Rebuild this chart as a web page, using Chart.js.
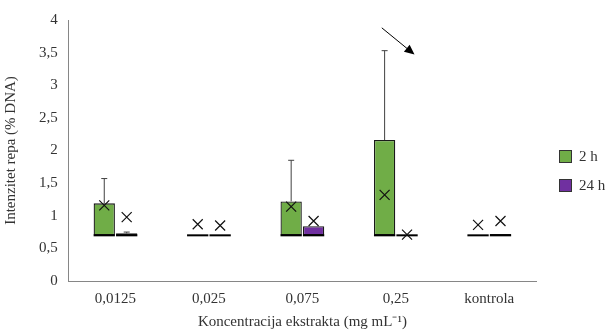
<!DOCTYPE html>
<html>
<head>
<meta charset="utf-8">
<script src="https://cdn.jsdelivr.net/npm/chart.js@4.4.1/dist/chart.umd.min.js"></script>
<style>
  html, body { margin: 0; padding: 0; background: #fff; }
  #wrap { position: relative; width: 607px; height: 335px; }
  #legend { position: absolute; left: 559px; top: 142px; font-family: "Liberation Serif", serif; font-size: 15px; color: #333; }
  #legend div { display: flex; align-items: center; height: 29px; }
  #legend span.sw { width: 11px; height: 11px; border: 1px solid #333; margin-right: 7px; display: inline-block; }
</style>
</head>
<body>
<div id="wrap">
  <canvas id="boxChart" width="607" height="335"></canvas>
  <div id="legend">
    <div><span class="sw" style="background:#70AD47"></span>2 h</div>
    <div><span class="sw" style="background:#7030A0"></span>24 h</div>
  </div>
</div>
<script>
const categories = ['0,0125', '0,025', '0,075', '0,25', 'kontrola'];

// 2 h
const q1_2h = [0.70, 0.70, 0.70, 0.70, 0.70];
const median_2h = [0.70, 0.70, 0.70, 0.70, 0.70];
const q3_2h = [1.19, 0.70, 1.22, 2.16, 0.70];
const max_2h = [1.57, 0.70, 1.85, 3.53, 0.70];
const mean_2h = [1.16, 0.87, 1.14, 1.32, 0.86];

// 24 h
const q1_24h = [0.70, 0.70, 0.70, 0.70, 0.70];
const median_24h = [0.70, 0.70, 0.70, 0.70, 0.70];
const q3_24h = [0.73, 0.70, 0.84, 0.70, 0.72];
const max_24h = [0.75, 0.70, 0.84, 0.70, 0.72];
const mean_24h = [0.98, 0.85, 0.92, 0.71, 0.92];

// arrow annotation: [category index, y value]
const arrowFrom = [2.85, 3.88];
const arrowTo = [3.2, 3.47];

const extras = [
  { median: median_2h, max: max_2h, mean: mean_2h },
  { median: median_24h, max: max_24h, mean: mean_24h }
];

const fmt = v => String(v).replace('.', ',');

// whiskers, medians, mean crosses and the arrow
const boxExtras = {
  id: 'boxExtras',
  afterDatasetsDraw(chart) {
    const ctx = chart.ctx;
    const y = chart.scales.y;
    const x = chart.scales.x;
    ctx.save();
    extras.forEach((ex, d) => {
      const meta = chart.getDatasetMeta(d);
      meta.data.forEach((bar, i) => {
        const cx = bar.x;
        const half = bar.width / 2;
        const top = y.getPixelForValue(chart.data.datasets[d].data[i][1]);
        const yMax = y.getPixelForValue(ex.max[i]);
        // whisker
        if (ex.max[i] > chart.data.datasets[d].data[i][1]) {
          ctx.strokeStyle = '#404040';
          ctx.lineWidth = 1;
          ctx.beginPath();
          ctx.moveTo(cx, top);
          ctx.lineTo(cx, yMax);
          ctx.moveTo(cx - 3, yMax);
          ctx.lineTo(cx + 3, yMax);
          ctx.stroke();
        }
        // median
        const ym = y.getPixelForValue(ex.median[i]);
        ctx.strokeStyle = '#000';
        ctx.lineWidth = 2;
        ctx.beginPath();
        ctx.moveTo(cx - half, ym);
        ctx.lineTo(cx + half, ym);
        ctx.stroke();
        // mean cross
        const my = y.getPixelForValue(ex.mean[i]);
        const r = 5;
        ctx.strokeStyle = '#111';
        ctx.lineWidth = 1.2;
        ctx.beginPath();
        ctx.moveTo(cx - r, my - r);
        ctx.lineTo(cx + r, my + r);
        ctx.moveTo(cx + r, my - r);
        ctx.lineTo(cx - r, my + r);
        ctx.stroke();
      });
    });
    // arrow
    const x1 = x.getPixelForValue(arrowFrom[0]), y1 = y.getPixelForValue(arrowFrom[1]);
    const x2 = x.getPixelForValue(arrowTo[0]), y2 = y.getPixelForValue(arrowTo[1]);
    const ang = Math.atan2(y2 - y1, x2 - x1);
    ctx.strokeStyle = '#000';
    ctx.fillStyle = '#000';
    ctx.lineWidth = 1;
    ctx.beginPath();
    ctx.moveTo(x1, y1);
    ctx.lineTo(x2 - 8 * Math.cos(ang), y2 - 8 * Math.sin(ang));
    ctx.stroke();
    ctx.beginPath();
    ctx.moveTo(x2, y2);
    ctx.lineTo(x2 - 10 * Math.cos(ang) + 4.5 * Math.sin(ang), y2 - 10 * Math.sin(ang) - 4.5 * Math.cos(ang));
    ctx.lineTo(x2 - 10 * Math.cos(ang) - 4.5 * Math.sin(ang), y2 - 10 * Math.sin(ang) + 4.5 * Math.cos(ang));
    ctx.closePath();
    ctx.fill();
    ctx.restore();
  }
};

const serif = { family: '"Liberation Serif", "Times New Roman", serif', size: 15 };

new Chart(document.getElementById('boxChart').getContext('2d'), {
  type: 'bar',
  data: {
    labels: categories,
    datasets: [
      {
        label: '2 h',
        data: categories.map((c, i) => [q1_2h[i], q3_2h[i]]),
        backgroundColor: '#70AD47',
        borderColor: '#1a1a1a',
        borderWidth: 1.3,
        borderSkipped: false,
        categoryPercentage: 0.48,
        barPercentage: 0.95
      },
      {
        label: '24 h',
        data: categories.map((c, i) => [q1_24h[i], q3_24h[i]]),
        backgroundColor: '#7030A0',
        borderColor: '#1a1a1a',
        borderWidth: 1.3,
        borderSkipped: false,
        categoryPercentage: 0.48,
        barPercentage: 0.95
      }
    ]
  },
  options: {
    responsive: false,
    animation: false,
    layout: { padding: { top: 7, right: 71, left: 2, bottom: 0 } },
    plugins: {
      legend: { display: false },
      tooltip: { enabled: false }
    },
    scales: {
      x: {
        grid: { display: false, drawTicks: false },
        border: { display: true, color: '#868686', width: 1 },
        ticks: { color: '#333', font: serif, padding: 9 },
        title: { display: true, text: 'Koncentracija ekstrakta (mg mL\u207B\u00B9)', color: '#333', font: serif, padding: { top: -4, bottom: 4 } }
      },
      y: {
        min: 0,
        max: 4,
        grid: { display: false, drawTicks: false },
        border: { display: true, color: '#868686', width: 1 },
        ticks: { stepSize: 0.5, color: '#333', font: serif, padding: 11, callback: v => fmt(v) },
        title: { display: true, text: 'Intenzitet repa (% DNA)', color: '#333', font: serif, padding: { top: 0, bottom: 8 } }
      }
    }
  },
  plugins: [boxExtras]
});
</script>
</body>
</html>
